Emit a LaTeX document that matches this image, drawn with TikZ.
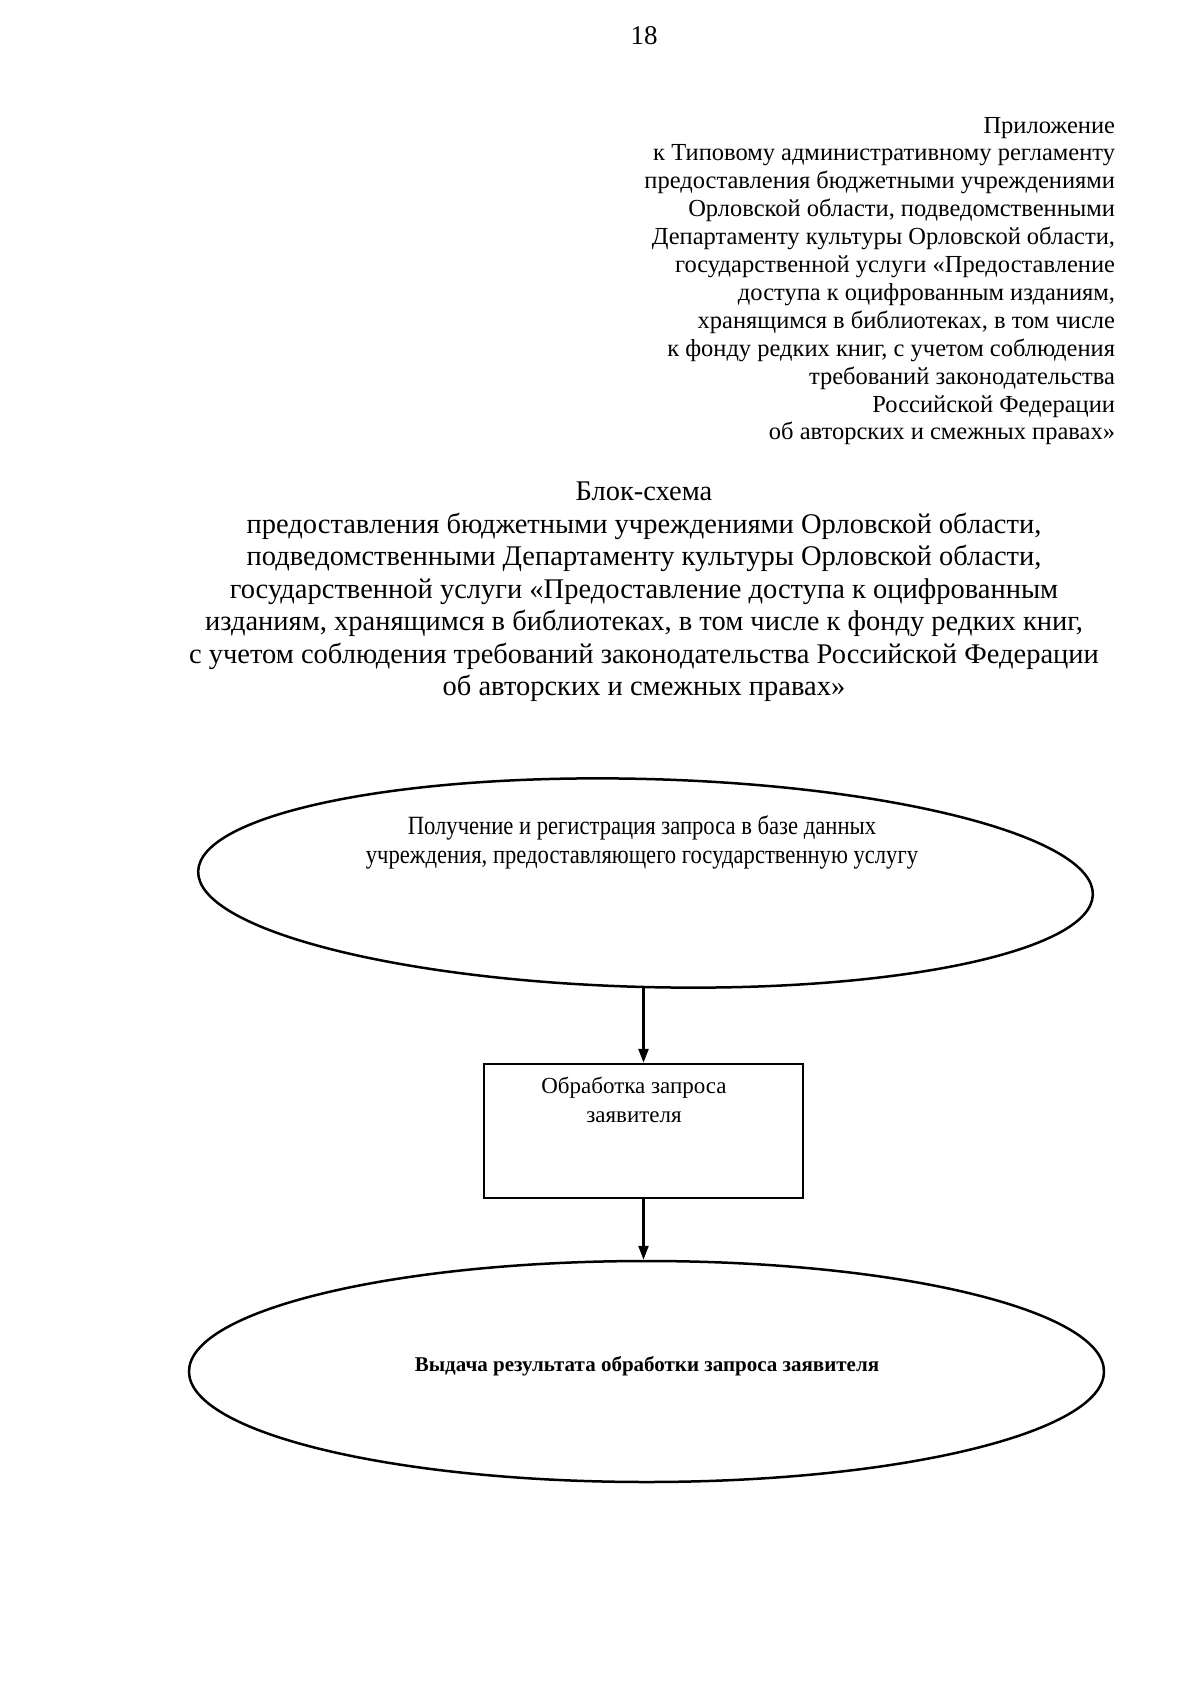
\documentclass[tikz,border=0pt]{standalone}
\usepackage{fontspec}
\setmainfont{Liberation Serif}
\newfontfamily\narrowfont[FakeStretch=0.86]{Liberation Serif}
\usetikzlibrary{shapes.geometric,arrows.meta}
\begin{document}
\begin{tikzpicture}[x=1pt,y=-1pt,
  flowline/.style={line width=2.4pt,-{Triangle[length=14pt,width=10pt]}},
  oval/.style={draw,line width=2.5pt,ellipse,inner sep=0pt},
  stepbox/.style={draw,line width=2.5pt,rectangle,inner sep=0pt},
  plain/.style={inner sep=0pt,outer sep=0pt}]
\useasboundingbox (0,0) rectangle (1200,1696);
\fill[white] (0,0) rectangle (1200,1696);
% page number
\node[plain,font=\fontsize{27}{32}\selectfont] (pg) at (644,36) {18};
% appendix
\node[plain,anchor=north east,align=right,font=\fontsize{24.5}{27.9}\selectfont] (app) at (1115,117)
 {Приложение\\
  к Типовому административному регламенту\\
  предоставления бюджетными учреждениями\\
  Орловской области, подведомственными\\
  Департаменту культуры Орловской области,\\
  государственной услуги «Предоставление\\
  доступа к оцифрованным изданиям,\\
  хранящимся в библиотеках, в том числе\\
  к фонду редких книг, с учетом соблюдения\\
  требований законодательства\\
  Российской Федерации\\
  об авторских и смежных правах»};
% title
\node[plain,anchor=north,align=center,font=\fontsize{28.5}{32.5}\selectfont] (title) at (644,482)
 {Блок-схема\\
  предоставления бюджетными учреждениями Орловской области,\\
  подведомственными Департаменту культуры Орловской области,\\
  государственной услуги «Предоставление доступа к оцифрованным\\
  изданиям, хранящимся в библиотеках, в том числе к фонду редких книг,\\
  с учетом соблюдения требований законодательства Российской Федерации\\
  об авторских и смежных правах»};
% flowchart
\node[oval,minimum width=895pt,minimum height=208pt,rotate=-1.5] (e1) at (645.5,883) {};
\node[plain,align=center,font=\narrowfont\fontsize{26.3}{29}\selectfont] (t1) at (642,842)
 {Получение и регистрация запроса в базе данных\\
  учреждения, предоставляющего государственную услугу};
\node[stepbox,minimum width=319pt,minimum height=134pt] (b1) at (643.5,1131) {};
\node[plain,align=center,font=\fontsize{23}{29}\selectfont] (t2) at (634,1100)
 {Обработка запроса\\ заявителя};
\node[oval,minimum width=915pt,minimum height=221pt] (e2) at (646.5,1371.5) {};
\node[plain,font=\bfseries\fontsize{21}{29}\selectfont] (t3) at (647,1366)
 {Выдача результата обработки запроса заявителя};
\draw[flowline] (b1.north |- e1.south) -- (b1.north);
\draw[flowline] (b1.south) -- (b1.south |- e2.north);
\end{tikzpicture}
\end{document}
